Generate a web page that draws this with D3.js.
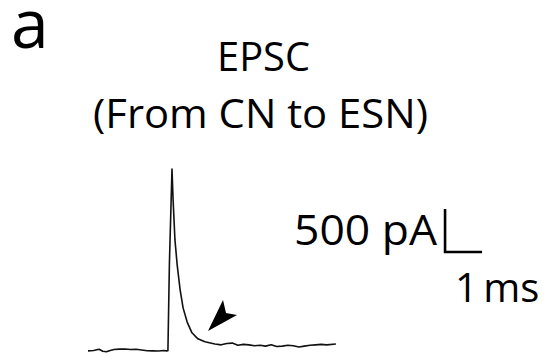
<!DOCTYPE html>
<html>
<head>
<meta charset="utf-8">
<script src="https://cdn.jsdelivr.net/npm/d3@7"></script>
<style>
  html, body { margin: 0; padding: 0; background: #fff; }
  svg { display: block; font-family: "Open Sans", sans-serif; }
</style>
</head>
<body>
<svg id="chart" width="548" height="356"></svg>
<script>
// ---- data ----
const timeMs = [0.00, 0.15, 0.30, 0.40, 0.50, 0.60, 0.70, 0.85, 1.00, 1.15, 1.30, 1.45, 1.60, 1.75, 1.90, 2.05, 2.12, 2.16,
  2.20, 2.27, 2.30, 2.35, 2.41, 2.49, 2.57, 2.68, 2.81, 2.97, 3.16, 3.43,
  3.60, 3.75, 3.90, 4.05, 4.20, 4.35, 4.50, 4.65, 4.80, 4.95, 5.10, 5.25, 5.40, 5.55, 5.70, 5.85, 6.00, 6.15, 6.30, 6.45, 6.70];
const currentPA = [-10, -5, 8, -15, -20, -5, 5, 10, 12, 5, 8, 0, -8, -10, -12, -5, -10, -8,
  1000, 2105, 1745, 1280, 990, 700, 490, 325, 200, 130, 95, 70,
  60, 75, 80, 55, 65, 60, 50, 55, 45, 60, 40, 45, 55, 50, 35, 45, 55, 60, 65, 60, 70];
const scaleBarTimeMs = 1;       // horizontal scale bar length
const scaleBarCurrentPA = 500;  // vertical scale bar length
const labels = { panel: "a", title1: "EPSC", title2: "(From CN to ESN)", yBar: "500 pA", xBar: "1 ms" };

// ---- layout ----
const svg = d3.select("#chart");
const x = d3.scaleLinear().domain([0, 1]).range([88, 125]);      // 37 px per ms
const y = d3.scaleLinear().domain([0, 500]).range([350, 307]);   // 43 px per 500 pA

const trace = timeMs.map((t, i) => [t, currentPA[i]]);
svg.append("path")
  .datum(trace)
  .attr("d", d3.line().x(d => x(d[0])).y(d => y(d[1])))
  .attr("fill", "none")
  .attr("stroke", "#111")
  .attr("stroke-width", 1.6)
  .attr("stroke-linejoin", "round");

// arrowhead pointing at slow component
const arrow = [[208, 331], [223, 300], [226, 313], [237, 315]];
svg.append("path")
  .attr("d", d3.line()(arrow) + "Z")
  .attr("fill", "#000");

// scale bar
const sbT = 9.65, sbI = 1140;
svg.append("path")
  .attr("d", d3.line()([[x(sbT), y(sbI + scaleBarCurrentPA)], [x(sbT), y(sbI)], [x(sbT + scaleBarTimeMs), y(sbI)]]))
  .attr("fill", "none")
  .attr("stroke", "#000")
  .attr("stroke-width", 2.6);

// texts
function txt(s, xp, yp, size, anchor, len) {
  const t = svg.append("text").text(s)
    .attr("x", xp).attr("y", yp).attr("font-size", size)
    .attr("text-anchor", anchor).attr("fill", "#000");
  if (len) t.attr("textLength", len).attr("lengthAdjust", "spacingAndGlyphs");
  return t;
}
txt(labels.panel, 11, 48, 68, "start");
txt(labels.title1, 263.5, 71, 40, "middle", 93);
txt(labels.title2, 260.5, 128, 41, "middle", 335);
txt(labels.yBar, 437, 245, 42, "end", 143);
txt(labels.xBar, 455, 302, 40, "start").attr("word-spacing", -5);
</script>
</body>
</html>
